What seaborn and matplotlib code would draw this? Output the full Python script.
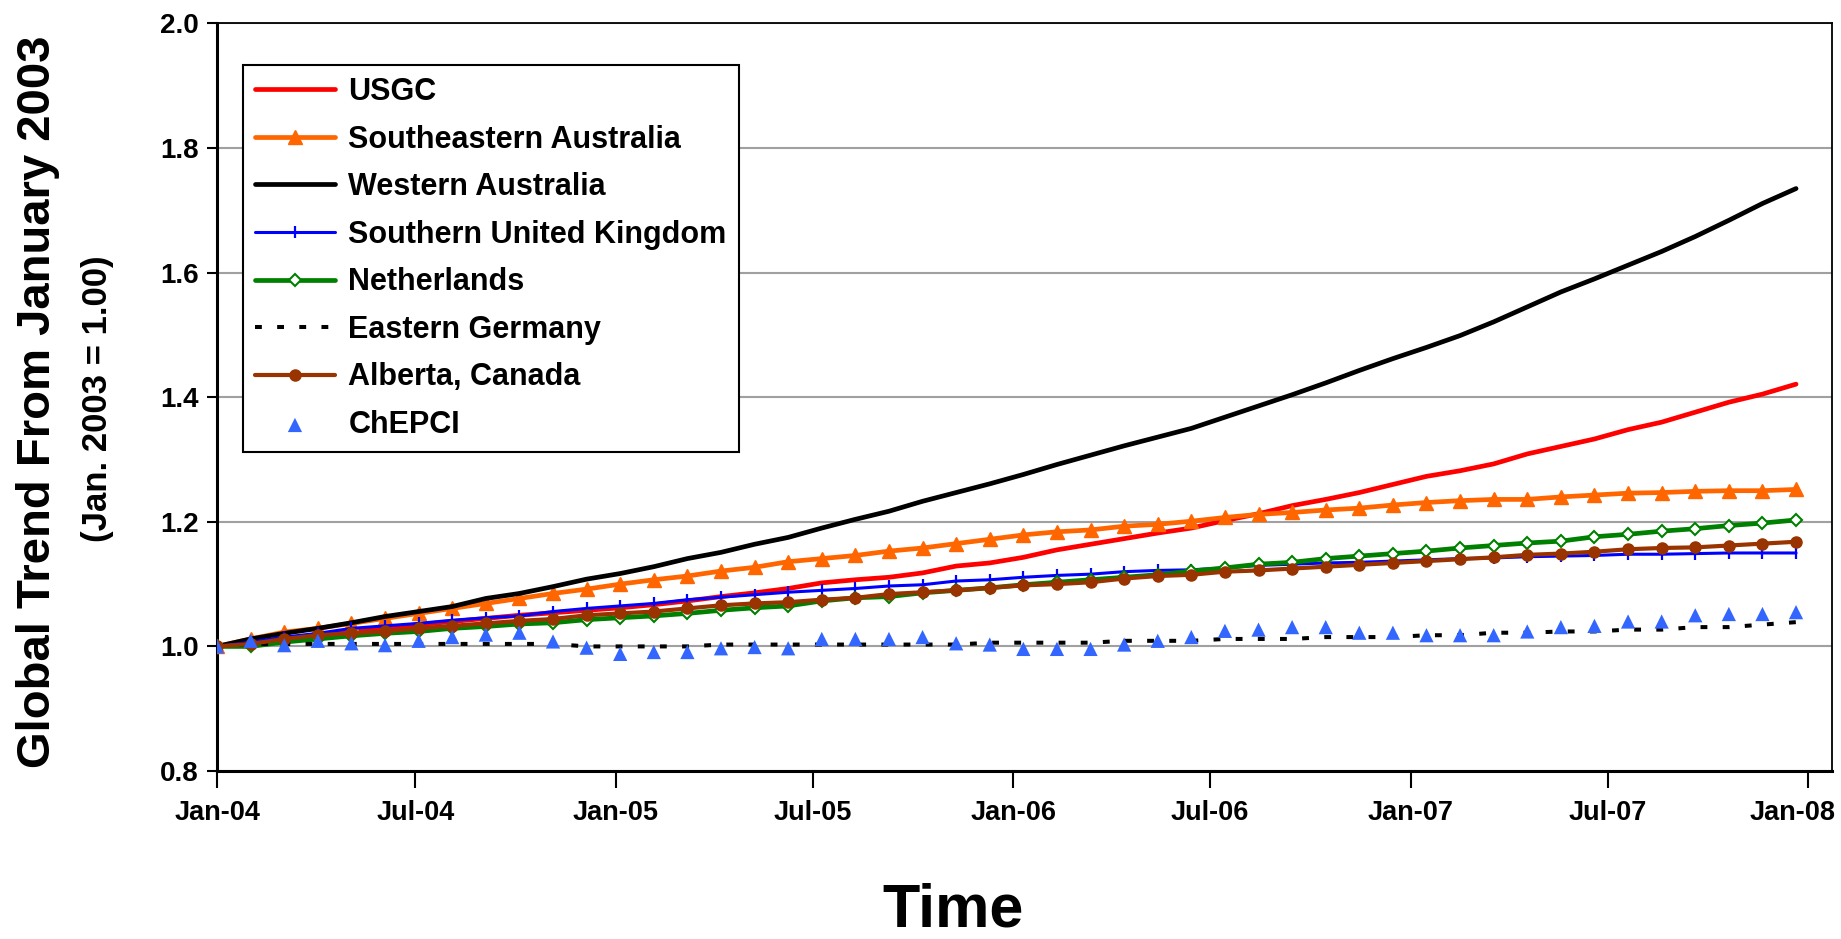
import numpy as np
import pandas as pd
import matplotlib
matplotlib.use("Agg")
import matplotlib.pyplot as plt
import matplotlib.dates as mdates
from matplotlib.transforms import ScaledTranslation
from matplotlib.font_manager import FontProperties
import seaborn as sns

# Monthly index values, January 2004 through December 2007
dates = pd.date_range("2004-01-01", "2007-12-21", periods=48)

usgc = [1.000, 1.006, 1.012, 1.018, 1.024, 1.030, 1.035, 1.040, 1.045, 1.050,
        1.054, 1.058, 1.062, 1.067, 1.073, 1.080, 1.086, 1.093, 1.102, 1.107,
        1.111, 1.118, 1.129, 1.134, 1.143, 1.155, 1.164, 1.173, 1.182, 1.190,
        1.202, 1.213, 1.226, 1.236, 1.247, 1.260, 1.273, 1.282, 1.293, 1.309,
        1.321, 1.333, 1.348, 1.360, 1.376, 1.392, 1.405, 1.421]

se_australia = [1.000, 1.012, 1.023, 1.029, 1.037, 1.045, 1.053, 1.061, 1.069, 1.077,
                1.085, 1.092, 1.100, 1.107, 1.113, 1.121, 1.127, 1.136, 1.141, 1.146,
                1.153, 1.158, 1.165, 1.172, 1.179, 1.184, 1.187, 1.193, 1.196, 1.201,
                1.207, 1.212, 1.215, 1.219, 1.222, 1.227, 1.231, 1.234, 1.236, 1.236,
                1.240, 1.243, 1.246, 1.247, 1.249, 1.250, 1.250, 1.252]

w_australia = [1.000, 1.012, 1.021, 1.029, 1.038, 1.048, 1.056, 1.064, 1.077, 1.085,
               1.096, 1.108, 1.117, 1.128, 1.141, 1.151, 1.164, 1.175, 1.190, 1.204,
               1.217, 1.233, 1.247, 1.261, 1.276, 1.292, 1.307, 1.322, 1.336, 1.350,
               1.368, 1.386, 1.404, 1.423, 1.443, 1.462, 1.480, 1.499, 1.521, 1.545,
               1.569, 1.590, 1.612, 1.634, 1.658, 1.684, 1.711, 1.735]

s_uk = [1.000, 1.007, 1.015, 1.021, 1.029, 1.033, 1.037, 1.042, 1.046, 1.049,
        1.056, 1.061, 1.065, 1.069, 1.075, 1.079, 1.083, 1.087, 1.090, 1.093,
        1.097, 1.099, 1.105, 1.107, 1.111, 1.114, 1.116, 1.120, 1.122, 1.123,
        1.126, 1.130, 1.132, 1.134, 1.135, 1.137, 1.139, 1.141, 1.142, 1.144,
        1.145, 1.146, 1.148, 1.148, 1.149, 1.150, 1.150, 1.150]

netherlands = [1.000, 1.000, 1.007, 1.012, 1.017, 1.021, 1.024, 1.029, 1.032, 1.036,
               1.038, 1.043, 1.046, 1.049, 1.053, 1.058, 1.062, 1.065, 1.073, 1.078,
               1.080, 1.086, 1.090, 1.094, 1.099, 1.103, 1.107, 1.111, 1.115, 1.121,
               1.126, 1.132, 1.135, 1.141, 1.145, 1.149, 1.153, 1.158, 1.162, 1.166,
               1.169, 1.176, 1.180, 1.185, 1.189, 1.194, 1.198, 1.203]

e_germany = [1.000, 1.004, 1.004, 1.004, 1.004, 1.004, 1.004, 1.004, 1.004, 1.004,
             1.004, 1.000, 1.000, 1.000, 1.000, 1.003, 1.003, 1.003, 1.003, 1.003,
             1.003, 1.003, 1.003, 1.006, 1.006, 1.006, 1.006, 1.009, 1.009, 1.009,
             1.012, 1.012, 1.012, 1.015, 1.015, 1.015, 1.018, 1.018, 1.022, 1.022,
             1.024, 1.024, 1.027, 1.027, 1.031, 1.031, 1.035, 1.039]

alberta = [1.000, 1.004, 1.012, 1.018, 1.021, 1.024, 1.029, 1.033, 1.037, 1.041,
           1.044, 1.050, 1.053, 1.056, 1.061, 1.066, 1.069, 1.071, 1.075, 1.078,
           1.084, 1.087, 1.090, 1.094, 1.098, 1.100, 1.103, 1.109, 1.113, 1.115,
           1.120, 1.122, 1.125, 1.128, 1.131, 1.134, 1.137, 1.140, 1.143, 1.147,
           1.149, 1.152, 1.156, 1.158, 1.159, 1.162, 1.165, 1.168]

chepci = [1.000, 1.009, 1.002, 1.009, 1.005, 1.002, 1.009, 1.015, 1.019, 1.022,
          1.008, 0.998, 0.988, 0.991, 0.991, 0.997, 0.999, 0.997, 1.012, 1.012,
          1.012, 1.015, 1.005, 1.003, 0.996, 0.996, 0.996, 1.003, 1.009, 1.015,
          1.025, 1.027, 1.031, 1.031, 1.022, 1.022, 1.018, 1.018, 1.018, 1.024,
          1.031, 1.033, 1.040, 1.040, 1.050, 1.052, 1.052, 1.055]

y_ticks = [0.8, 1.0, 1.2, 1.4, 1.6, 1.8, 2.0]

sns.set_theme(style="white")
plt.rcParams["font.family"] = ["Liberation Sans", "DejaVu Sans"]
plt.rcParams["font.weight"] = "bold"
plt.rcParams["text.color"] = "black"
plt.rcParams["axes.labelcolor"] = "black"
plt.rcParams["xtick.color"] = "black"
plt.rcParams["ytick.color"] = "black"

fig = plt.figure(figsize=(18.41, 9.39), dpi=100)
ax = fig.add_axes([0.1179, 0.1789, 0.8772, 0.7961])

line_specs = [
    (usgc, "USGC", dict(color="#FF0000", linewidth=3.4, marker="None")),
    (se_australia, "Southeastern Australia",
     dict(color="#FF6600", linewidth=3.4, marker="^", markersize=10,
          markerfacecolor="#FF6600", markeredgecolor="#FF6600", markeredgewidth=1)),
    (w_australia, "Western Australia", dict(color="black", linewidth=3.4, marker="None")),
    (s_uk, "Southern United Kingdom",
     dict(color="#0000FF", linewidth=2.2, marker="|", markersize=9,
          markeredgecolor="#0000FF", markeredgewidth=1.6)),
    (netherlands, "Netherlands",
     dict(color="#008000", linewidth=3.4, marker="D", markersize=6,
          markerfacecolor="white", markeredgecolor="#008000", markeredgewidth=1.5)),
    (e_germany, "Eastern Germany",
     dict(color="black", linewidth=2.9, marker="None", linestyle=(0, (1.7, 3.8)))),
    (alberta, "Alberta, Canada",
     dict(color="#993300", linewidth=3.0, marker="o", markersize=8,
          markerfacecolor="#993300", markeredgecolor="#993300", markeredgewidth=1)),
]

for z, (vals, name, style) in enumerate(line_specs):
    sns.lineplot(x=dates, y=vals, ax=ax, label=name, zorder=3 + z, **style)

sns.scatterplot(x=dates, y=chepci, ax=ax, marker="^", s=105, color="#3366FF",
                edgecolor="none", label="ChEPCI", zorder=12)

# Axes ranges, ticks and grid
ax.set_ylim(0.8, 2.0)
ax.set_yticks(y_ticks)
ax.yaxis.set_major_formatter(matplotlib.ticker.FormatStrFormatter("%.1f"))
ax.set_xlim(pd.Timestamp("2004-01-01"), pd.Timestamp("2008-01-23"))
ax.xaxis.set_major_locator(mdates.MonthLocator(bymonth=[1, 7]))
ax.xaxis.set_major_formatter(mdates.DateFormatter("%b-%y"))
ax.yaxis.grid(True, color="#a0a0a0", linewidth=1.5, zorder=0)
ax.xaxis.grid(False)
ax.set_axisbelow(True)
ax.set_xlabel("")
ax.set_ylabel("")

ax.tick_params(axis="y", direction="out", length=7, width=1.5, pad=6,
               labelsize=20, colors="black", left=True)
ax.tick_params(axis="x", direction="out", length=12, width=1.5, pad=9,
               labelsize=19.5, colors="black", bottom=True)

fig.canvas.draw()
xlabels = ax.get_xticklabels()
for lbl in xlabels + ax.get_yticklabels():
    lbl.set_fontweight("bold")
# keep the last date label inside the figure edge
xlabels[-1].set_transform(xlabels[-1].get_transform()
                          + ScaledTranslation(-0.15, 0, fig.dpi_scale_trans))

for side in ["left", "bottom"]:
    ax.spines[side].set_color("black")
    ax.spines[side].set_linewidth(2.2)
for side in ["top", "right"]:
    ax.spines[side].set_color("black")
    ax.spines[side].set_linewidth(1.3)

# Legend
handles, labels = ax.get_legend_handles_labels()
leg = ax.legend(handles, labels, loc="upper left", bbox_to_anchor=(0.132, 0.931),
                bbox_transform=fig.transFigure, frameon=True, fancybox=False,
                framealpha=1, edgecolor="black",
                prop=FontProperties(family="Liberation Sans", weight="bold", size=22),
                handlelength=2.6, handletextpad=0.45, labelspacing=0.575,
                borderpad=0.4, borderaxespad=0, scatterpoints=1, numpoints=1)
leg.get_frame().set_linewidth(1.5)
leg.set_zorder(20)
for txt in leg.get_texts():
    txt.set_color("black")

# Axis titles
fig.text(0.0205, 0.572, "Global Trend From January 2003", rotation=90,
         ha="center", va="center", fontsize=34, fontweight="bold", color="black")
fig.text(0.053, 0.575, "(Jan. 2003 = 1.00)", rotation=90,
         ha="center", va="center", fontsize=25, fontweight="bold", color="black")
fig.text(0.5177, 0.013, "Time", ha="center", va="baseline",
         fontsize=44, fontweight="bold", color="black")

fig.savefig("out.png", dpi=100)
